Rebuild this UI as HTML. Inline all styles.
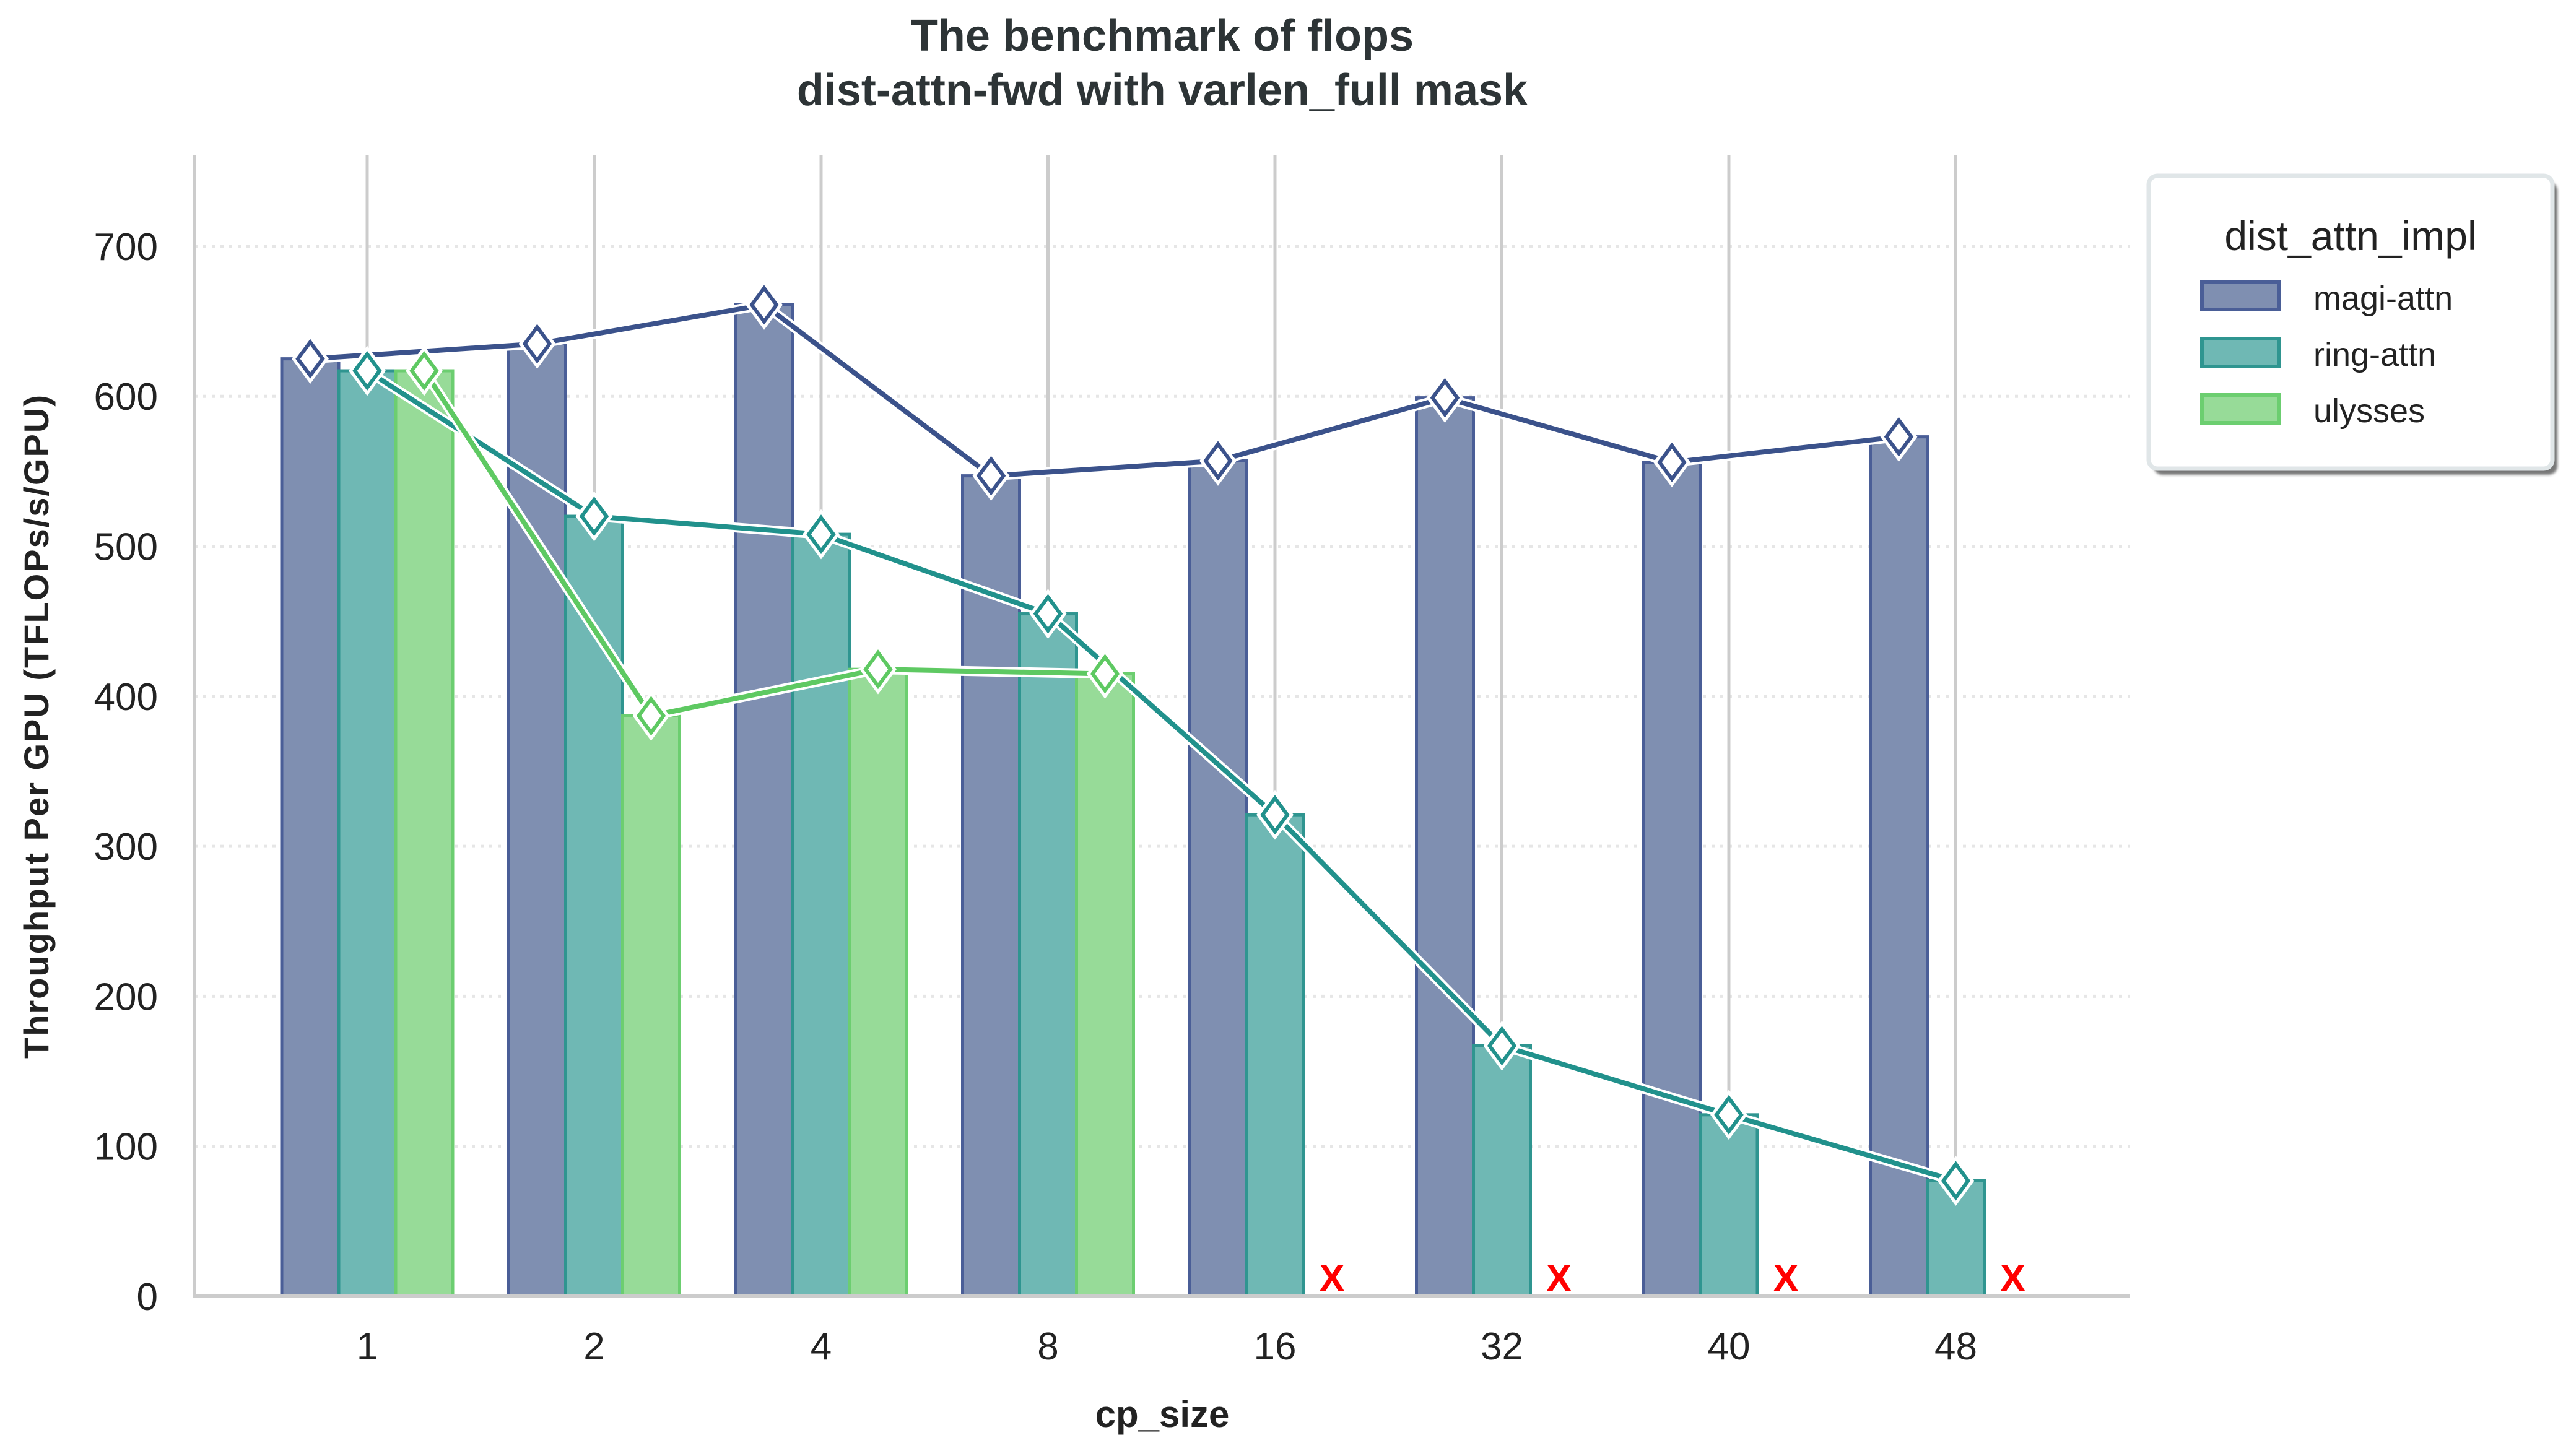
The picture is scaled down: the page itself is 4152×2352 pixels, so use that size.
<!DOCTYPE html>
<html><head><meta charset="utf-8"><style>
html,body{margin:0;padding:0;background:#fff;}
svg{display:block;font-family:"Liberation Sans","DejaVu Sans",sans-serif;}
</style></head><body>
<svg id="chart" width="4152" height="2352" viewBox="0 0 4152 2352" xmlns="http://www.w3.org/2000/svg">
<defs>
<filter id="sh" x="-10%" y="-10%" width="130%" height="130%"><feOffset dx="8" dy="10"/><feGaussianBlur stdDeviation="2"/></filter>
</defs>
<g id="grid"></g>
<g id="bars"></g>
<g id="lines"></g>
<g id="axes"></g>
<text x="1877" y="82" text-anchor="middle" font-size="72" font-weight="bold" fill="#2d3436">The benchmark of flops</text>
<text x="1877" y="170" text-anchor="middle" font-size="72" font-weight="bold" fill="#2d3436">dist-attn-fwd with varlen_full mask</text>
<text x="1877" y="2305" text-anchor="middle" font-size="60" font-weight="bold" fill="#222">cp_size</text>
<text transform="translate(78,1173) rotate(-90)" text-anchor="middle" font-size="56" font-weight="bold" fill="#222" letter-spacing="2">Throughput Per GPU (TFLOPs/s/GPU)</text>
<g>
<rect x="3470" y="284" width="652" height="473" rx="14" fill="#777" filter="url(#sh)"/>
<rect x="3470" y="284" width="652" height="473" rx="14" fill="#fff" stroke="#e0e6e8" stroke-width="7"/>
<text x="3796" y="404" text-anchor="middle" font-size="66" fill="#222">dist_attn_impl</text>
<g><rect x="3556" y="455" width="125" height="45" fill="#7f8fb1" stroke="#4a5e97" stroke-width="6"/><text x="3736" y="500" font-size="54" fill="#222">magi-attn</text></g>
<g><rect x="3556" y="547" width="125" height="45" fill="#6fb8b4" stroke="#2f9590" stroke-width="6"/><text x="3736" y="591" font-size="54" fill="#222">ring-attn</text></g>
<g><rect x="3556" y="638" width="125" height="45" fill="#97db98" stroke="#6cce70" stroke-width="6"/><text x="3736" y="682" font-size="54" fill="#222">ulysses</text></g>
</g>
</svg>
<script>
const categories = ["1","2","4","8","16","32","40","48"];
const magiValues = [625, 635, 661, 547, 557, 599, 556, 573];
const ringValues = [617, 520, 508, 455, 321, 167, 121, 77];
const ulyssesValues = [617, 387, 418, 415, null, null, null, null];
const yTicks = [0, 100, 200, 300, 400, 500, 600, 700];

const NS = "http://www.w3.org/2000/svg";
const L = 314, R = 3440, B = 2094, T = 250, PER = 242.3;
const x0 = 593, step = 366.5, bw = 92;
function yScale(v){ return B - v * PER / 100; }
function xScale(i){ return x0 + i * step; }
function mk(tag, attrs, parent){ const e = document.createElementNS(NS, tag); for (const k in attrs) e.setAttribute(k, attrs[k]); parent.appendChild(e); return e; }

const grid = document.getElementById('grid');
const bars = document.getElementById('bars');
const lines = document.getElementById('lines');
const axes = document.getElementById('axes');

yTicks.forEach(t => {
  if (t > 0) {
    const g = mk('line', {x1:L, x2:R, y1:yScale(t), y2:yScale(t), stroke:'#e6e6e6', 'stroke-width':5, 'stroke-dasharray':'5 9'}, grid);
    
    
  }
  const lb = mk('text', {x:255, y:yScale(t)+22, 'text-anchor':'end', 'font-size':62, fill:'#222'}, axes);
  lb.textContent = t;
  
  
});
categories.forEach((c, i) => {
  const g = mk('line', {x1:xScale(i), x2:xScale(i), y1:T, y2:B, stroke:'#cccccc', 'stroke-width':5}, grid);
  
  
  const lb = mk('text', {x:xScale(i), y:2196, 'text-anchor':'middle', 'font-size':62, fill:'#222'}, axes);
  lb.textContent = c;
  
  
});

const series = [
  {name:'magi-attn', vals:magiValues, off:-1, fill:'#7f8fb1', edge:'#4a5e97', line:'#3b528b'},
  {name:'ring-attn', vals:ringValues, off:0, fill:'#6fb8b4', edge:'#2f9590', line:'#21918c'},
  {name:'ulysses', vals:ulyssesValues, off:1, fill:'#97db98', edge:'#6cce70', line:'#5ec962'}
];
series.forEach(s => {
  s.vals.forEach((v, i) => {
    const cx = xScale(i) + s.off * bw;
    if (v === null) {
      const xm = mk('text', {x:cx, y:B-8, 'text-anchor':'middle', 'font-size':62, 'font-weight':'bold', fill:'#ff0000'}, lines);
      xm.textContent = 'X';
      
      
      return;
    }
    const b = mk('rect', {x:cx-bw/2, y:yScale(v), width:bw, height:B-yScale(v), fill:s.fill, stroke:s.edge, 'stroke-width':5}, bars);
    
    
  });
});
series.forEach(s => {
  const pts = [];
  s.vals.forEach((v, i) => { if (v !== null) pts.push([xScale(i) + s.off * bw, yScale(v)]); });
  const d = pts.map(p => p.join(',')).join(' ');
  const halo = mk('polyline', {points:d, fill:'none', stroke:'#fff', 'stroke-width':16, 'stroke-linejoin':'round'}, lines);
  
  
  const ln = mk('polyline', {points:d, fill:'none', stroke:s.line, 'stroke-width':8, 'stroke-linejoin':'round'}, lines);
  
  
  pts.forEach(p => {
    const dm = `M${p[0]},${p[1]-27} L${p[0]+20},${p[1]} L${p[0]},${p[1]+27} L${p[0]-20},${p[1]} Z`;
    const o = mk('path', {d:dm, fill:'none', stroke:'#fff', 'stroke-width':16, 'stroke-linejoin':'miter'}, lines);
    
    
    const m = mk('path', {d:dm, fill:'#fff', stroke:s.line, 'stroke-width':6}, lines);
    
    
  });
});
const sl = mk('line', {x1:L, x2:L, y1:T, y2:B+3, stroke:'#cccccc', 'stroke-width':6}, axes);


const sb = mk('line', {x1:L-3, x2:R, y1:B, y2:B, stroke:'#cccccc', 'stroke-width':6}, axes);


</script>
</body></html>
